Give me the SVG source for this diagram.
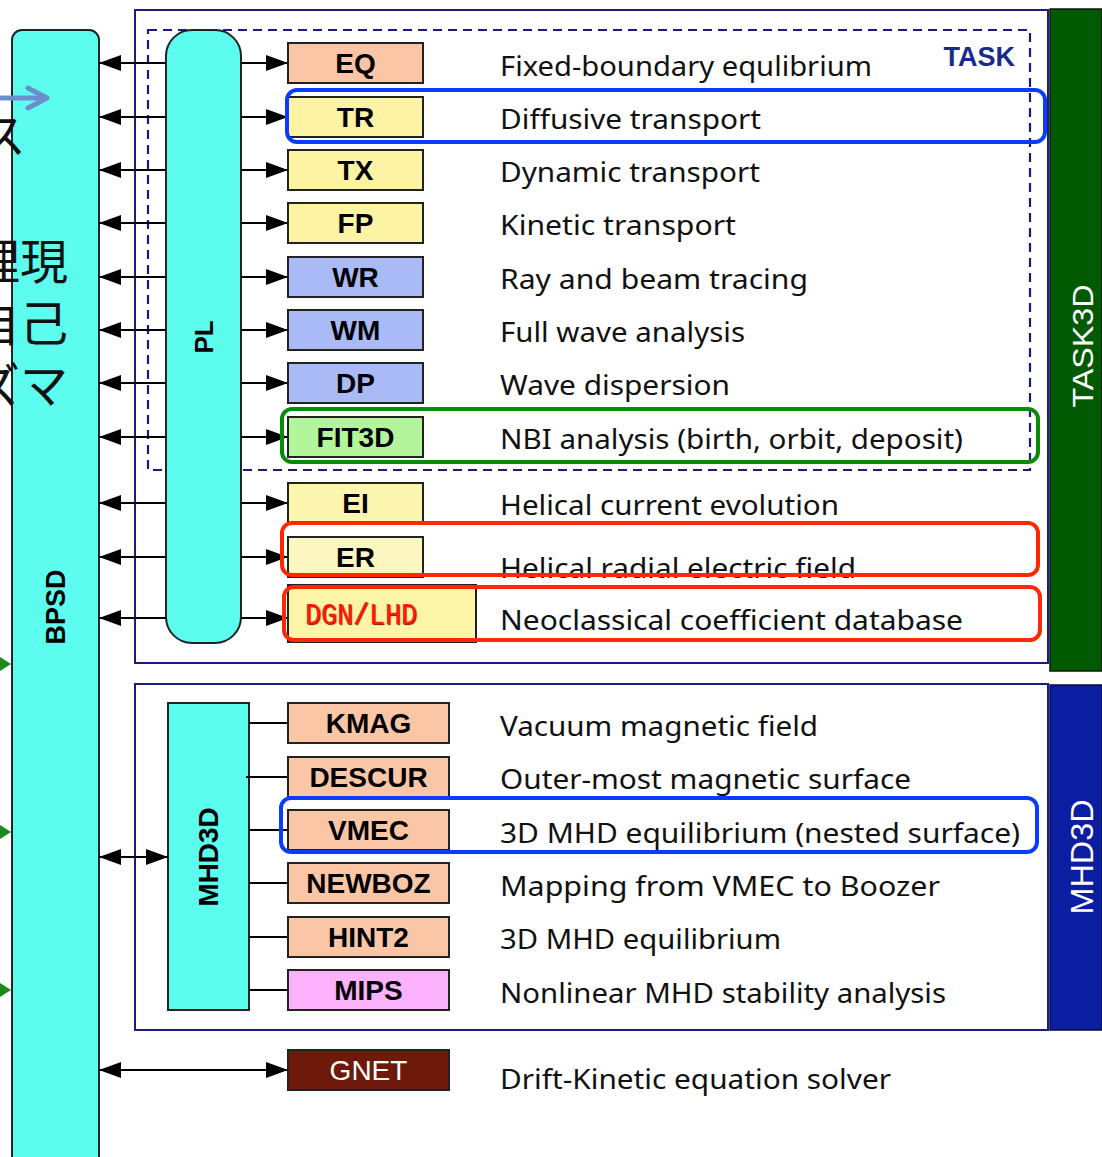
<svg xmlns="http://www.w3.org/2000/svg" width="1102" height="1157" viewBox="0 0 1102 1157">
<defs>
<marker id="ah" viewBox="0 0 22 16" refX="22" refY="8" markerWidth="22" markerHeight="16" markerUnits="userSpaceOnUse" orient="auto-start-reverse">
<path d="M0,0 L22,8 L0,16 z" fill="#000"/>
</marker>
<style>
.cy{fill:#5cfcee;stroke:#222;stroke-width:2}
.nd{stroke:#222;stroke-width:2}
.lb{font-family:"Liberation Sans",Arial,sans-serif;font-weight:bold;font-size:28px;fill:#000;text-anchor:middle}
.ds{font-family:"Noto Sans","Liberation Sans",sans-serif;font-size:28px;fill:#111}
.cn{stroke:#000;stroke-width:2;fill:none}
.frame{fill:none;stroke:#1a1a80;stroke-width:2}
.hl{fill:none;stroke-width:4}
.rt{font-family:"Liberation Sans",Arial,sans-serif;text-anchor:middle}
.jp{font-family:"Noto Sans CJK JP",sans-serif;font-size:48px;fill:#111}
</style>
</defs>
<rect width="1102" height="1157" fill="#fff"/>

<!-- frames -->
<rect class="frame" x="135" y="10" width="913" height="653"/>
<rect class="frame" x="135" y="684" width="913" height="346"/>
<rect x="148" y="30" width="882" height="440" fill="none" stroke="#1a1a80" stroke-width="2.2" stroke-dasharray="9 6"/>
<text x="1015" y="66" font-family="Liberation Sans,Arial,sans-serif" font-weight="bold" font-size="27" fill="#1a2a8a" text-anchor="end">TASK</text>

<g id="TASK3D">
<rect x="1050" y="9" width="52" height="662" fill="#015a01" stroke="#0a1a0a" stroke-width="1.5"/>
<text class="rt" transform="translate(1093,346) rotate(-90)" font-size="29" fill="#fff" textLength="123" lengthAdjust="spacingAndGlyphs">TASK3D</text>
</g>
<g id="MHD3Dbar">
<rect x="1050" y="685" width="52" height="345" fill="#0b1ea2" stroke="#0a0a40" stroke-width="1.5"/>
<text class="rt" transform="translate(1093,857) rotate(-90)" font-size="31" fill="#fff" textLength="115" lengthAdjust="spacingAndGlyphs">MHD3D</text>
</g>

<g id="BPSD">
<rect class="cy" x="12" y="30" width="87" height="1160" rx="10"/>
<text class="rt" transform="translate(65,607) rotate(-90)" font-size="28" font-weight="bold" textLength="75" lengthAdjust="spacingAndGlyphs">BPSD</text>
</g>
<g id="PL">
<rect class="cy" x="166" y="30" width="75" height="613" rx="26"/>
<text class="rt" transform="translate(213,337) rotate(-90)" font-size="26" font-weight="bold">PL</text>
</g>
<g id="MHD3D">
<rect class="cy" x="168" y="703" width="81" height="307"/>
<text class="rt" transform="translate(218,857) rotate(-90)" font-size="28" font-weight="bold" textLength="99" lengthAdjust="spacingAndGlyphs">MHD3D</text>
</g>

<!-- connectors -->
<g id="connectors" class="cn">
<line x1="99" y1="63" x2="166" y2="63" marker-start="url(#ah)"/>
<line x1="99" y1="117" x2="166" y2="117" marker-start="url(#ah)"/>
<line x1="99" y1="170" x2="166" y2="170" marker-start="url(#ah)"/>
<line x1="99" y1="223" x2="166" y2="223" marker-start="url(#ah)"/>
<line x1="99" y1="277" x2="166" y2="277" marker-start="url(#ah)"/>
<line x1="99" y1="330" x2="166" y2="330" marker-start="url(#ah)"/>
<line x1="99" y1="383" x2="166" y2="383" marker-start="url(#ah)"/>
<line x1="99" y1="437" x2="166" y2="437" marker-start="url(#ah)"/>
<line x1="99" y1="503" x2="166" y2="503" marker-start="url(#ah)"/>
<line x1="99" y1="557" x2="166" y2="557" marker-start="url(#ah)"/>
<line x1="99" y1="618" x2="166" y2="618" marker-start="url(#ah)"/>
<line x1="241" y1="63" x2="288" y2="63" marker-end="url(#ah)"/>
<line x1="241" y1="117" x2="288" y2="117" marker-end="url(#ah)"/>
<line x1="241" y1="170" x2="288" y2="170" marker-end="url(#ah)"/>
<line x1="241" y1="223" x2="288" y2="223" marker-end="url(#ah)"/>
<line x1="241" y1="277" x2="288" y2="277" marker-end="url(#ah)"/>
<line x1="241" y1="330" x2="288" y2="330" marker-end="url(#ah)"/>
<line x1="241" y1="383" x2="288" y2="383" marker-end="url(#ah)"/>
<line x1="241" y1="437" x2="288" y2="437" marker-end="url(#ah)"/>
<line x1="241" y1="503" x2="288" y2="503" marker-end="url(#ah)"/>
<line x1="241" y1="557" x2="288" y2="557" marker-end="url(#ah)"/>
<line x1="241" y1="618" x2="288" y2="618" marker-end="url(#ah)"/>
<line x1="99" y1="857" x2="168" y2="857" marker-start="url(#ah)" marker-end="url(#ah)"/>
<line x1="99" y1="1070" x2="288" y2="1070" marker-start="url(#ah)" marker-end="url(#ah)"/>
<line x1="249" y1="723" x2="288" y2="723"/>
<line x1="246" y1="777" x2="288" y2="777"/>
<line x1="249" y1="830" x2="288" y2="830"/>
<line x1="249" y1="883" x2="288" y2="883"/>
<line x1="249" y1="937" x2="288" y2="937"/>
<line x1="249" y1="990" x2="288" y2="990"/>
</g>

<!-- TASK nodes -->
<g id="EQ"><rect class="nd" x="288" y="43" width="135" height="40" fill="#fbc5a6"/><text class="lb" x="355.5" y="73">EQ</text></g>
<g id="TR"><rect class="nd" x="288" y="97" width="135" height="40" fill="#fcf4a4"/><text class="lb" x="355.5" y="127">TR</text></g>
<g id="TX"><rect class="nd" x="288" y="150" width="135" height="40" fill="#fcf4a4"/><text class="lb" x="355.5" y="180">TX</text></g>
<g id="FP"><rect class="nd" x="288" y="203" width="135" height="40" fill="#fcf4a4"/><text class="lb" x="355.5" y="233">FP</text></g>
<g id="WR"><rect class="nd" x="288" y="257" width="135" height="40" fill="#a9baf7"/><text class="lb" x="355.5" y="287">WR</text></g>
<g id="WM"><rect class="nd" x="288" y="310" width="135" height="40" fill="#a9baf7"/><text class="lb" x="355.5" y="340">WM</text></g>
<g id="DP"><rect class="nd" x="288" y="363" width="135" height="40" fill="#a9baf7"/><text class="lb" x="355.5" y="393">DP</text></g>
<g id="FIT3D"><rect class="nd" x="288" y="417" width="135" height="40" fill="#b3f59b"/><text class="lb" x="355.5" y="447">FIT3D</text></g>
<g id="EI"><rect class="nd" x="288" y="483" width="135" height="40" fill="#fcf5b0"/><text class="lb" x="355.5" y="513">EI</text></g>
<g id="ER"><rect class="nd" x="288" y="537" width="135" height="40" fill="#fcf6c0"/><text class="lb" x="355.5" y="567">ER</text></g>
<g id="DGN"><rect class="nd" x="288" y="585" width="188" height="57" fill="#fcf5a8"/><text x="305" y="624" font-family="Liberation Mono,monospace" font-size="30" fill="#ff1a0a" textLength="112" lengthAdjust="spacingAndGlyphs" style="text-shadow:1px 1px 1px #a00">DGN/LHD</text></g>

<!-- MHD nodes -->
<g id="KMAG"><rect class="nd" x="288" y="703" width="161" height="40" fill="#fbc6a6"/><text class="lb" x="368.5" y="733">KMAG</text></g>
<g id="DESCUR"><rect class="nd" x="288" y="757" width="161" height="40" fill="#fbc6a6"/><text class="lb" x="368.5" y="787">DESCUR</text></g>
<g id="VMEC"><rect class="nd" x="288" y="810" width="161" height="40" fill="#fbc6a6"/><text class="lb" x="368.5" y="840">VMEC</text></g>
<g id="NEWBOZ"><rect class="nd" x="288" y="863" width="161" height="40" fill="#fbc6a6"/><text class="lb" x="368.5" y="893">NEWBOZ</text></g>
<g id="HINT2"><rect class="nd" x="288" y="917" width="161" height="40" fill="#fbc6a6"/><text class="lb" x="368.5" y="947">HINT2</text></g>
<g id="MIPS"><rect class="nd" x="288" y="970" width="161" height="40" fill="#fbb1fb"/><text class="lb" x="368.5" y="1000">MIPS</text></g>
<g id="GNET"><rect class="nd" x="288" y="1050" width="161" height="40" fill="#6d1a0b"/><text class="lb" x="368.5" y="1080" style="font-weight:normal;fill:#fff">GNET</text></g>

<!-- descriptions -->
<g id="descriptions">
<text class="ds" x="500" y="76" textLength="372" lengthAdjust="spacingAndGlyphs">Fixed-boundary equlibrium</text>
<text class="ds" x="500" y="129" textLength="261" lengthAdjust="spacingAndGlyphs">Diffusive transport</text>
<text class="ds" x="500" y="182" textLength="260" lengthAdjust="spacingAndGlyphs">Dynamic transport</text>
<text class="ds" x="500" y="235" textLength="236" lengthAdjust="spacingAndGlyphs">Kinetic transport</text>
<text class="ds" x="500" y="289" textLength="308" lengthAdjust="spacingAndGlyphs">Ray and beam tracing</text>
<text class="ds" x="500" y="342" textLength="245" lengthAdjust="spacingAndGlyphs">Full wave analysis</text>
<text class="ds" x="500" y="395" textLength="230" lengthAdjust="spacingAndGlyphs">Wave dispersion</text>
<text class="ds" x="500" y="449" textLength="463" lengthAdjust="spacingAndGlyphs">NBI analysis (birth, orbit, deposit)</text>
<text class="ds" x="500" y="515" textLength="339" lengthAdjust="spacingAndGlyphs">Helical current evolution</text>
<text class="ds" x="500" y="578" textLength="356" lengthAdjust="spacingAndGlyphs">Helical radial electric field</text>
<text class="ds" x="500" y="630" textLength="463" lengthAdjust="spacingAndGlyphs">Neoclassical coefficient database</text>
<text class="ds" x="500" y="736" textLength="318" lengthAdjust="spacingAndGlyphs">Vacuum magnetic field</text>
<text class="ds" x="500" y="789" textLength="411" lengthAdjust="spacingAndGlyphs">Outer-most magnetic surface</text>
<text class="ds" x="500" y="843" textLength="520" lengthAdjust="spacingAndGlyphs">3D MHD equilibrium (nested surface)</text>
<text class="ds" x="500" y="896" textLength="440" lengthAdjust="spacingAndGlyphs">Mapping from VMEC to Boozer</text>
<text class="ds" x="500" y="949" textLength="281" lengthAdjust="spacingAndGlyphs">3D MHD equilibrium</text>
<text class="ds" x="500" y="1003" textLength="446" lengthAdjust="spacingAndGlyphs">Nonlinear MHD stability analysis</text>
<text class="ds" x="500" y="1089" textLength="391" lengthAdjust="spacingAndGlyphs">Drift-Kinetic equation solver</text>
</g>

<!-- highlights -->
<rect class="hl" x="287" y="90" width="758" height="52" rx="10" stroke="#0a3cff"/>
<rect class="hl" x="282" y="409" width="756" height="53" rx="10" stroke="#0a8a0a"/>
<rect class="hl" x="282" y="523" width="756" height="52" rx="10" stroke="#ff2800"/>
<rect class="hl" x="284" y="587" width="756" height="53" rx="10" stroke="#ff2800"/>
<rect class="hl" x="281" y="798" width="756" height="54" rx="10" stroke="#0a3cff"/>

<!-- left overlay fragments -->
<text class="jp" x="-22" y="153">ス</text>
<text class="jp" x="-28" y="279">理現</text>
<text class="jp" x="-28" y="341">自己</text>
<text class="jp" x="-28" y="403">ズマ</text>
<line x1="0" y1="98" x2="44" y2="98" stroke="#6a8fcc" stroke-width="5"/>
<polyline points="28,88 47,98 28,108" fill="none" stroke="#6a8fcc" stroke-width="5" stroke-linejoin="round" stroke-linecap="round"/>
<polygon points="0,657 11,664 0,671" fill="#1a8a1a"/>
<polygon points="0,825 11,832 0,839" fill="#1a8a1a"/>
<polygon points="0,983 11,990 0,997" fill="#1a8a1a"/>
</svg>
